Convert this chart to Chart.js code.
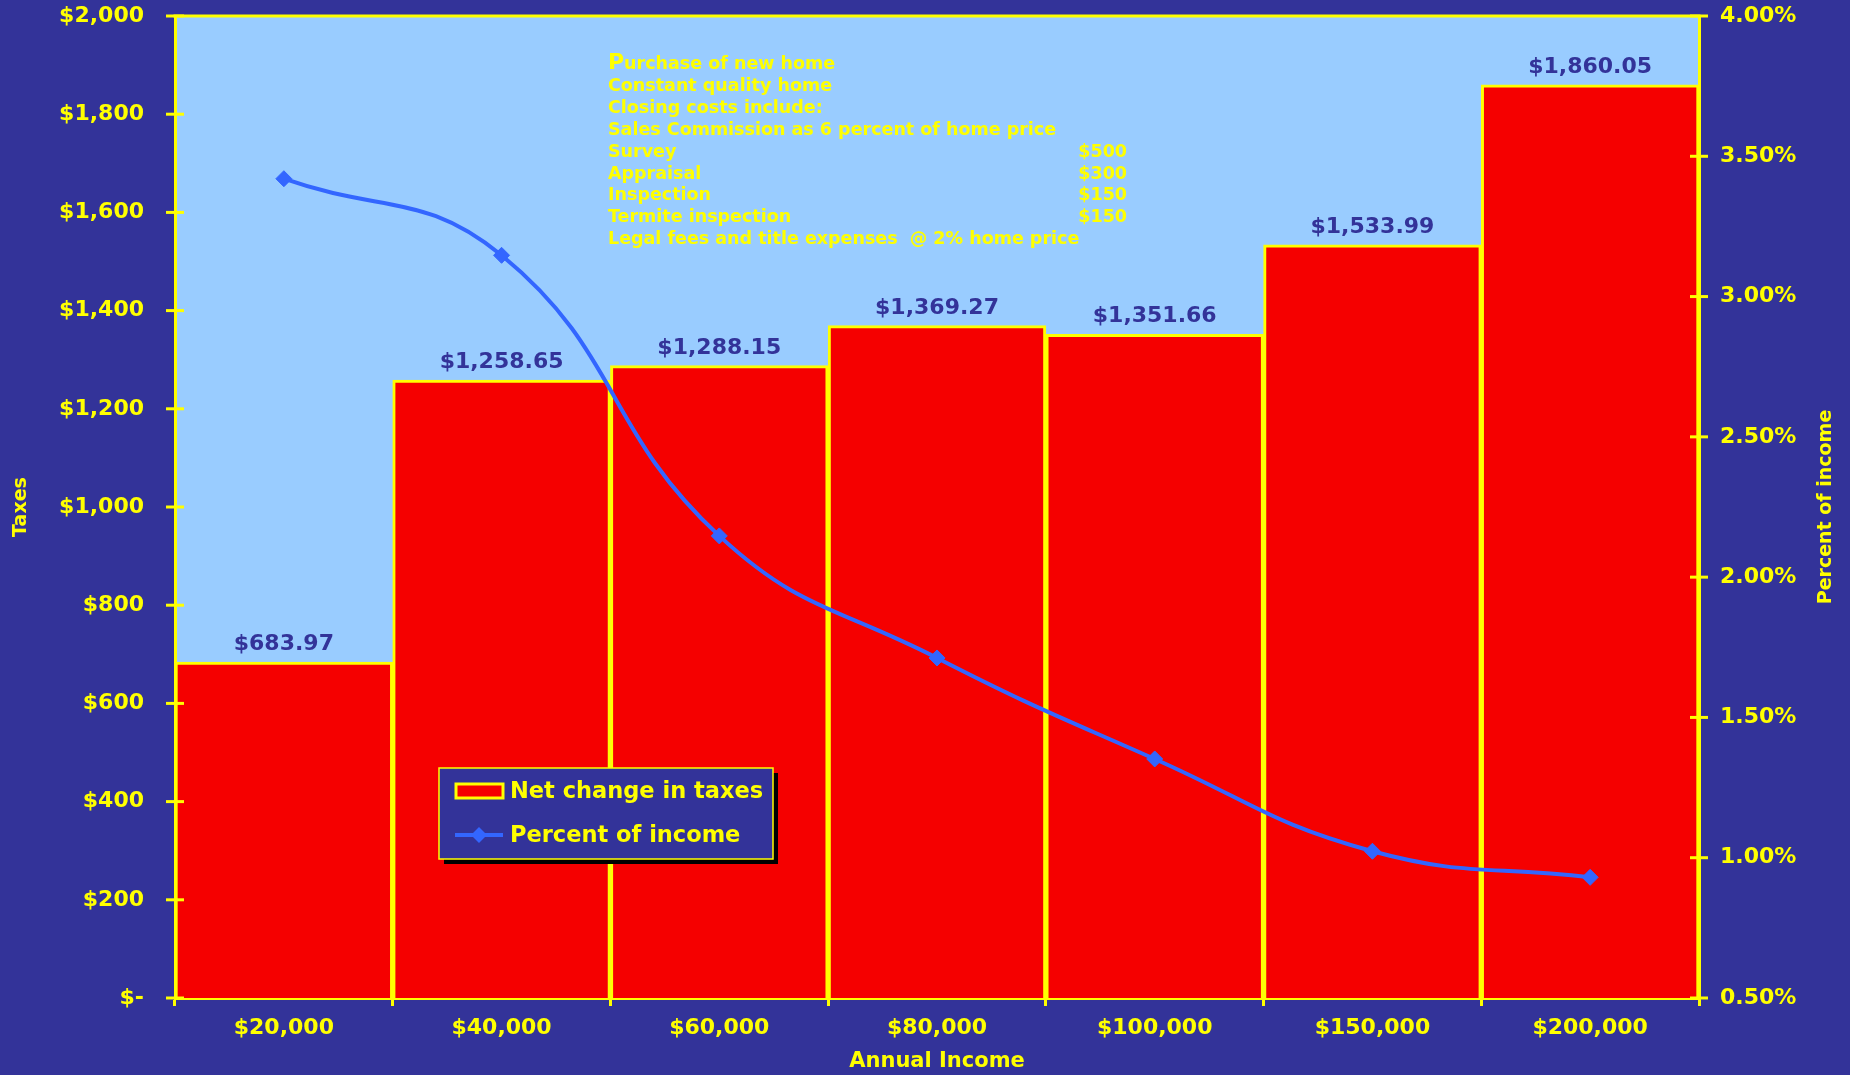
<!DOCTYPE html>
<html>
<head>
<meta charset="utf-8">
<title>Net change in taxes by annual income</title>
<script src="https://cdn.jsdelivr.net/npm/chart.js@4.4.1/dist/chart.umd.min.js"></script>
<style>
  html, body { margin: 0; padding: 0; background: #333399; }
  #wrap { width: 1850px; height: 1075px; position: relative; }
</style>
</head>
<body>
<div id="wrap"><canvas id="taxChart"></canvas></div>
<script>
const incomes = ['$20,000', '$40,000', '$60,000', '$80,000', '$100,000', '$150,000', '$200,000'];
const netTaxChange = [683.97, 1258.65, 1288.15, 1369.27, 1351.66, 1533.99, 1860.05];
const percentOfIncome = [3.420, 3.147, 2.147, 1.712, 1.352, 1.023, 0.930];

const noteLines = [
  'Purchase of new home',
  'Constant quality home',
  'Closing costs include:',
  'Sales Commission as 6 percent of home price',
  'Survey',
  'Appraisal',
  'Inspection',
  'Termite inspection',
  'Legal fees and title expenses  @ 2% home price'
];
const noteAmounts = ['', '', '', '', '$500', '$300', '$150', '$150', ''];

const yellow = '#ffff00';
const navy = '#333399';
const family = "'DejaVu Sans', Verdana, sans-serif";
const tickFont = { family, size: 22, weight: 'bold' };

const money = v => '$' + v.toLocaleString('en-US', { minimumFractionDigits: 2, maximumFractionDigits: 2 });

// value axes: fixed width, no extra label padding above/below the plot
const fixWidth = (w) => (s) => {
  s.width = w;
  s.paddingTop = 0;
  s.paddingBottom = 0;
};

const decor = {
  id: 'decor',
  beforeDraw(chart) {
    const { ctx, chartArea: a } = chart;
    ctx.save();
    ctx.fillStyle = '#99ccff';
    ctx.fillRect(a.left, a.top, a.right - a.left, a.bottom - a.top);
    ctx.restore();
  },
  afterDraw(chart) {
    const { ctx, chartArea: a, scales } = chart;
    ctx.save();

    // top edge of the plot frame
    ctx.strokeStyle = yellow;
    ctx.lineWidth = 3;
    ctx.beginPath();
    ctx.moveTo(a.left - 1.5, a.top);
    ctx.lineTo(a.right + 1.5, a.top);
    ctx.stroke();

    // tick marks crossing both value axes
    [['y', a.left], ['y1', a.right]].forEach(([id, x]) => {
      const s = scales[id];
      s.ticks.forEach(t => {
        const py = s.getPixelForValue(t.value);
        ctx.beginPath();
        ctx.moveTo(x - 9, py);
        ctx.lineTo(x + 9, py);
        ctx.stroke();
      });
    });

    // right axis title, reading upwards
    ctx.save();
    ctx.translate(1826, (a.top + a.bottom) / 2);
    ctx.rotate(-Math.PI / 2);
    ctx.fillStyle = yellow;
    ctx.font = `bold 19px ${family}`;
    ctx.textAlign = 'center';
    ctx.textBaseline = 'middle';
    ctx.fillText('Percent of income', 0, 0);
    ctx.restore();

    // value labels above the bars
    const bars = chart.getDatasetMeta(1);
    ctx.fillStyle = navy;
    ctx.font = `bold 22px ${family}`;
    ctx.textAlign = 'center';
    ctx.textBaseline = 'alphabetic';
    bars.data.forEach((bar, i) => {
      ctx.fillText(money(netTaxChange[i]), bar.x, bar.y - 12);
    });

    // notes block
    ctx.fillStyle = yellow;
    ctx.textAlign = 'left';
    const nx = 608, ny = 69, lh = 21.9;
    noteLines.forEach((line, i) => {
      const y = ny + i * lh;
      if (i === 0) {
        ctx.font = `bold 22px ${family}`;
        ctx.fillText(line[0], nx, y);
        const w = ctx.measureText(line[0]).width;
        ctx.font = `bold 17.5px ${family}`;
        ctx.fillText(line.slice(1), nx + w, y);
      } else {
        ctx.font = `bold 17.5px ${family}`;
        ctx.fillText(line, nx, y);
      }
      if (noteAmounts[i]) {
        ctx.textAlign = 'right';
        ctx.fillText(noteAmounts[i], 1127, y);
        ctx.textAlign = 'left';
      }
    });

    // legend box with drop shadow
    const lg = { x: 439, y: 768, w: 334, h: 91 };
    ctx.fillStyle = '#000000';
    ctx.fillRect(lg.x + 5, lg.y + 5, lg.w, lg.h);
    ctx.fillStyle = navy;
    ctx.fillRect(lg.x, lg.y, lg.w, lg.h);
    ctx.strokeStyle = yellow;
    ctx.lineWidth = 1.5;
    ctx.strokeRect(lg.x, lg.y, lg.w, lg.h);

    const barSet = chart.data.datasets[1];
    const lineSet = chart.data.datasets[0];
    ctx.font = `bold 22.5px ${family}`;
    ctx.textBaseline = 'middle';

    let rowY = 791;
    ctx.fillStyle = barSet.backgroundColor;
    ctx.fillRect(456, rowY - 7, 47, 14);
    ctx.strokeStyle = barSet.borderColor;
    ctx.lineWidth = 3;
    ctx.strokeRect(456, rowY - 7, 47, 14);
    ctx.fillStyle = yellow;
    ctx.fillText(barSet.label, 510, rowY + 1);

    rowY = 835;
    ctx.strokeStyle = lineSet.borderColor;
    ctx.lineWidth = 4;
    ctx.beginPath();
    ctx.moveTo(455, rowY);
    ctx.lineTo(503, rowY);
    ctx.stroke();
    ctx.fillStyle = lineSet.backgroundColor;
    ctx.beginPath();
    ctx.moveTo(479, rowY - 8);
    ctx.lineTo(487, rowY);
    ctx.lineTo(479, rowY + 8);
    ctx.lineTo(471, rowY);
    ctx.closePath();
    ctx.fill();
    ctx.fillStyle = yellow;
    ctx.fillText(lineSet.label, 510, rowY + 1);

    ctx.restore();
  }
};

new Chart(document.getElementById('taxChart'), {
  type: 'bar',
  data: {
    labels: incomes,
    datasets: [
      {
        type: 'line',
        label: 'Percent of income',
        data: percentOfIncome,
        yAxisID: 'y1',
        borderColor: '#3366ff',
        backgroundColor: '#3366ff',
        borderWidth: 4,
        tension: 0.45,
        pointStyle: 'rectRot',
        pointRadius: 8,
        pointHoverRadius: 8,
        pointBorderWidth: 1,
        order: 0,
      },
      {
        type: 'bar',
        label: 'Net change in taxes',
        data: netTaxChange,
        yAxisID: 'y',
        backgroundColor: '#f50000',
        borderColor: yellow,
        borderWidth: 3,
        barPercentage: 1,
        categoryPercentage: 1,
        order: 1,
      },
    ],
  },
  options: {
    responsive: true,
    maintainAspectRatio: false,
    animation: false,
    layout: { padding: { top: 16, left: 0, right: 0, bottom: 0 } },
    plugins: {
      legend: { display: false },
      tooltip: { enabled: false },
    },
    scales: {
      x: {
        grid: {
          display: true,
          drawOnChartArea: false,
          drawTicks: true,
          tickLength: 8,
          color: yellow,
          lineWidth: 3,
          offset: true,
        },
        border: { display: true, color: yellow, width: 3 },
        ticks: { color: yellow, font: tickFont, padding: 9, maxRotation: 0, autoSkip: false },
        title: {
          display: true,
          text: 'Annual Income',
          color: yellow,
          font: { family, size: 21, weight: 'bold' },
          padding: { top: 0, bottom: 1 },
        },
        afterFit: (s) => { s.height = 77; },
      },
      y: {
        position: 'left',
        min: 0,
        max: 2000,
        grid: { display: false, drawTicks: false },
        border: { display: true, color: yellow, width: 3 },
        ticks: {
          stepSize: 200,
          color: yellow,
          font: tickFont,
          padding: 31,
          callback: (v) => (v === 0 ? '$-' : '$' + v.toLocaleString('en-US')),
        },
        title: {
          display: true,
          text: 'Taxes',
          color: yellow,
          font: { family, size: 19, weight: 'bold' },
          padding: { top: 10, bottom: 0 },
        },
        afterFit: fixWidth(175),
      },
      y1: {
        position: 'right',
        min: 0.5,
        max: 4,
        grid: { display: false, drawTicks: false },
        border: { display: true, color: yellow, width: 3 },
        ticks: {
          stepSize: 0.5,
          color: yellow,
          font: tickFont,
          padding: 21,
          callback: (v) => v.toFixed(2) + '%',
        },
        title: { display: false },
        afterFit: fixWidth(151),
      },
    },
  },
  plugins: [decor],
});
</script>
</body>
</html>
